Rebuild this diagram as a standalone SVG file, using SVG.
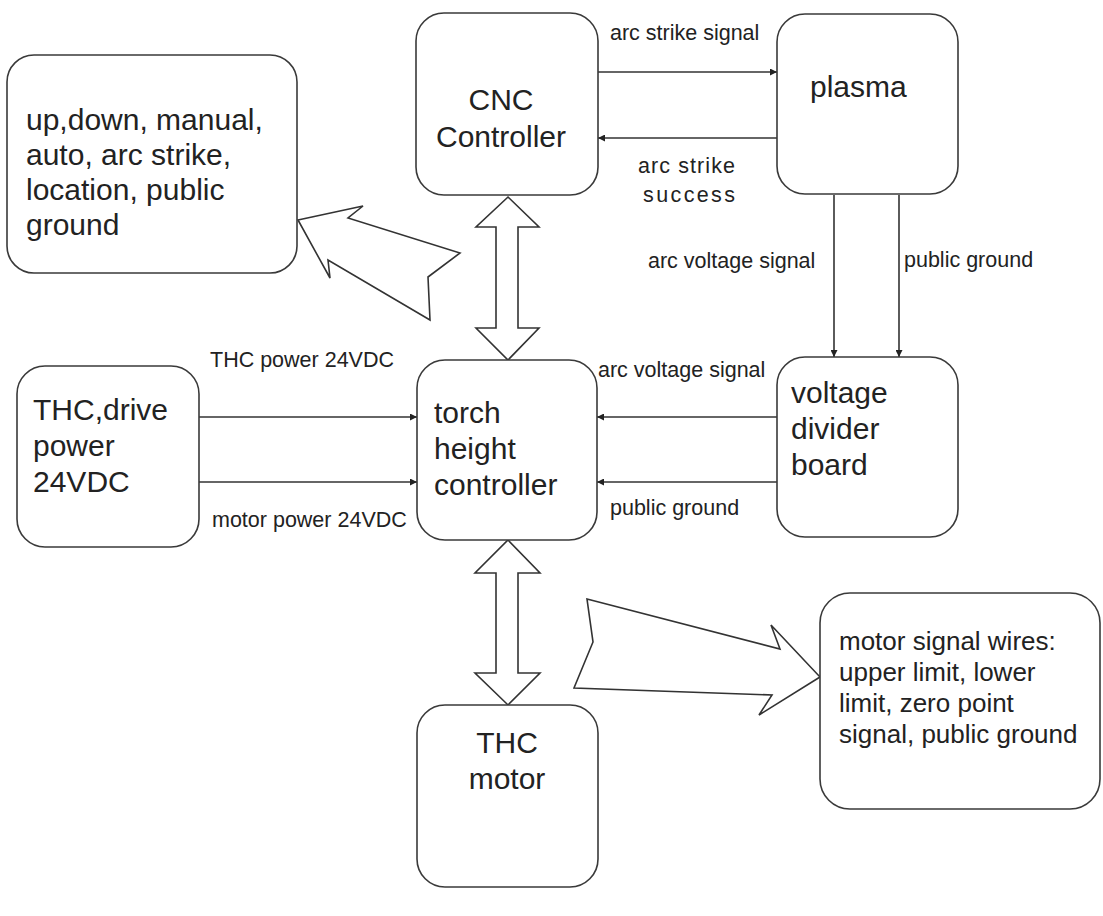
<svg xmlns="http://www.w3.org/2000/svg" width="1103" height="916" viewBox="0 0 1103 916">
<style>
  .box { fill: #ffffff; stroke: #3a3a3a; stroke-width: 1.6; }
  .fat { fill: #ffffff; stroke: #333333; stroke-width: 1.6; stroke-linejoin: miter; }
  .wire { stroke: #333333; stroke-width: 1.6; fill: none; }
  .big { font-family: "Liberation Sans", Arial, sans-serif; font-size: 30px; fill: #222222; }
  .mid { font-family: "Liberation Sans", Arial, sans-serif; font-size: 26px; fill: #222222; }
  .lbl { font-family: "Liberation Sans", Arial, sans-serif; font-size: 21.5px; fill: #222222; }
</style>
<defs>
  <marker id="ah" viewBox="0 0 10 10" refX="10" refY="5" markerWidth="9" markerHeight="7" markerUnits="userSpaceOnUse" orient="auto">
    <path d="M0,0 L10,5 L0,10 z" fill="#222222"/>
  </marker>
</defs>
<rect width="1103" height="916" fill="#ffffff"/>

<g id="connectors">
  <line class="wire" x1="598" y1="72" x2="777" y2="72" marker-end="url(#ah)"/>
  <line class="wire" x1="777" y1="138" x2="598" y2="138" marker-end="url(#ah)"/>
  <line class="wire" x1="834" y1="195" x2="834" y2="357" marker-end="url(#ah)"/>
  <line class="wire" x1="899" y1="195" x2="899" y2="357" marker-end="url(#ah)"/>
  <line class="wire" x1="777" y1="417" x2="597" y2="417" marker-end="url(#ah)"/>
  <line class="wire" x1="777" y1="482" x2="597" y2="482" marker-end="url(#ah)"/>
  <line class="wire" x1="199" y1="417" x2="417" y2="417" marker-end="url(#ah)"/>
  <line class="wire" x1="199" y1="482" x2="417" y2="482" marker-end="url(#ah)"/>
  <polygon class="fat" points="508,197 539,227 518,227 518,328 539,328 508,360 476,328 496,328 496,227 476,227"/>
  <polygon class="fat" points="508,540 540,573 518,573 518,673 540,673 508,705 475,673 496,673 496,573 475,573"/>
  <polygon class="fat" points="298,220 363,206 348,218 460,253 428,277 430,320 328,260 330,278"/>
  <polygon class="fat" points="587,599 780,649 771,625 820,677 759,715 772,695 574,688 593,642"/>
  <text class="lbl" x="610" y="40">arc strike signal</text>
  <text class="lbl" x="638" y="173" textLength="97">arc strike</text>
  <text class="lbl" x="643" y="202" textLength="92">success</text>
  <text class="lbl" x="648" y="268">arc voltage signal</text>
  <text class="lbl" x="904" y="267">public ground</text>
  <text class="lbl" x="598" y="377">arc voltage signal</text>
  <text class="lbl" x="610" y="515">public ground</text>
  <text class="lbl" x="210" y="367">THC power 24VDC</text>
  <text class="lbl" x="212" y="527">motor power 24VDC</text>
</g>

<g id="node-signals">
  <rect class="box" x="7" y="55" width="290" height="218" rx="27" ry="27"/>
  <text class="big" x="26" y="130">up,down, manual,</text>
  <text class="big" x="26" y="165">auto, arc strike,</text>
  <text class="big" x="26" y="200">location, public</text>
  <text class="big" x="26" y="235">ground</text>
</g>

<g id="node-cnc">
  <rect class="box" x="416" y="13" width="182" height="182" rx="28" ry="28"/>
  <text class="big" x="501" y="110" text-anchor="middle">CNC</text>
  <text class="big" x="501" y="147" text-anchor="middle">Controller</text>
</g>

<g id="node-plasma">
  <rect class="box" x="777" y="14" width="181" height="180" rx="28" ry="28"/>
  <text class="big" x="810" y="97">plasma</text>
</g>

<g id="node-power">
  <rect class="box" x="17" y="366" width="182" height="181" rx="28" ry="28"/>
  <text class="big" x="33" y="420">THC,drive</text>
  <text class="big" x="33" y="456">power</text>
  <text class="big" x="33" y="492">24VDC</text>
</g>

<g id="node-thc">
  <rect class="box" x="417" y="360" width="180" height="180" rx="28" ry="28"/>
  <text class="big" x="434" y="423">torch</text>
  <text class="big" x="434" y="459">height</text>
  <text class="big" x="434" y="495">controller</text>
</g>

<g id="node-divider">
  <rect class="box" x="777" y="357" width="181" height="180" rx="28" ry="28"/>
  <text class="big" x="791" y="403">voltage</text>
  <text class="big" x="791" y="439">divider</text>
  <text class="big" x="791" y="475">board</text>
</g>

<g id="node-motor">
  <rect class="box" x="417" y="705" width="181" height="182" rx="28" ry="28"/>
  <text class="big" x="507" y="753" text-anchor="middle">THC</text>
  <text class="big" x="507" y="789" text-anchor="middle">motor</text>
</g>

<g id="node-motor-signals">
  <rect class="box" x="820" y="593" width="280" height="216" rx="30" ry="30"/>
  <text class="mid" x="839" y="650">motor signal wires:</text>
  <text class="mid" x="839" y="681">upper limit, lower</text>
  <text class="mid" x="839" y="712">limit, zero point</text>
  <text class="mid" x="839" y="743">signal, public ground</text>
</g>
</svg>
